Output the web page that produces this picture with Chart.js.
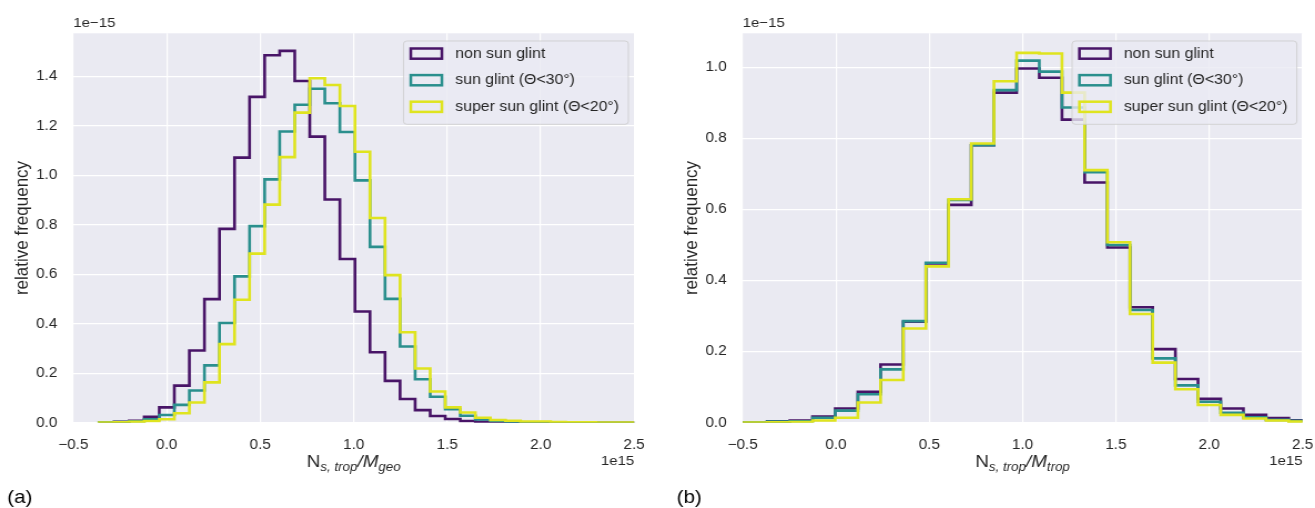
<!DOCTYPE html>
<html>
<head>
<meta charset="utf-8">
<script src="https://cdn.jsdelivr.net/npm/chart.js@4"></script>
<style>
  html, body { margin: 0; padding: 0; background: #fff; }
  body { width: 1315px; height: 508px; position: relative; overflow: hidden; }
  .panel { position: absolute; top: 0; height: 508px; transform-origin: 0 0; }
  .panel canvas { display: block; }
</style>
</head>
<body>
<div class="panel" style="left:0;width:590px;transform:scaleX(1.1102)"><canvas id="chartA" width="590" height="508"></canvas></div>
<div class="panel" style="left:655px;width:595px;transform:scaleX(1.1092)"><canvas id="chartB" width="595" height="508"></canvas></div>
<script>
// series names and colours
const seriesNames = ['non sun glint', 'sun glint (\u0398<30\u00b0)', 'super sun glint (\u0398<20\u00b0)'];
const seriesColors = ['#481467', '#2a8f8d', '#dfe41f'];

// (a) N_s,trop / M_geo  -- bin edges (x 1e15) and relative frequency (x 1e-15)
const edgesA = [-0.362, -0.2815, -0.201, -0.1205, -0.04, 0.0405, 0.121, 0.2015, 0.282, 0.3625,
  0.443, 0.5235, 0.604, 0.6845, 0.765, 0.8455, 0.926, 1.0065, 1.087, 1.1675, 1.248, 1.3285,
  1.409, 1.4895, 1.57, 1.6505, 1.731, 1.8115, 1.892, 1.9725, 2.053, 2.1335, 2.214, 2.2945,
  2.375, 2.4555, 2.536];
const nonGlintA = [0, 0.004, 0.008, 0.024, 0.062, 0.15, 0.292, 0.50, 0.784, 1.072, 1.318, 1.486,
  1.504, 1.382, 1.157, 0.903, 0.662, 0.45, 0.285, 0.169, 0.096, 0.051, 0.027, 0.015, 0.007,
  0.004, 0.002, 0.001, 0, 0, 0, 0, 0, 0, 0, 0];
const glintA = [0.002, 0.003, 0.006, 0.014, 0.031, 0.072, 0.13, 0.232, 0.403, 0.592, 0.795, 0.984,
  1.178, 1.286, 1.351, 1.292, 1.176, 0.98, 0.711, 0.501, 0.308, 0.176, 0.105, 0.055, 0.028,
  0.013, 0.007, 0.004, 0.002, 0.001, 0.001, 0, 0, 0, 0, 0];
const superGlintA = [0.001, 0.002, 0.004, 0.007, 0.014, 0.038, 0.082, 0.163, 0.318, 0.497, 0.684,
  0.882, 1.074, 1.254, 1.393, 1.366, 1.281, 1.096, 0.828, 0.597, 0.366, 0.219, 0.126, 0.062,
  0.041, 0.02, 0.011, 0.008, 0.005, 0.005, 0.003, 0.002, 0.002, 0.001, 0.001, 0.001];

// (b) N_s,trop / M_trop
const edgesB = [-0.6115, -0.49, -0.3685, -0.247, -0.1255, -0.004, 0.1175, 0.239, 0.3605, 0.482,
  0.6035, 0.725, 0.8465, 0.968, 1.0895, 1.211, 1.3325, 1.454, 1.5755, 1.697, 1.8185, 1.94,
  2.0615, 2.183, 2.3045, 2.426, 2.5475];
const nonGlintB = [0, 0.001, 0.004, 0.006, 0.017, 0.04, 0.087, 0.164, 0.284, 0.448, 0.613, 0.781,
  0.929, 0.997, 0.971, 0.853, 0.676, 0.493, 0.325, 0.207, 0.123, 0.067, 0.04, 0.022, 0.013, 0.007];
const glintB = [0, 0.001, 0.003, 0.004, 0.014, 0.034, 0.08, 0.15, 0.286, 0.45, 0.627, 0.781,
  0.936, 1.019, 0.988, 0.887, 0.705, 0.5, 0.317, 0.181, 0.105, 0.059, 0.028, 0.015, 0.008, 0.005];
const superGlintB = [0, 0.0005, 0.001, 0.002, 0.006, 0.014, 0.057, 0.12, 0.265, 0.44, 0.629, 0.786,
  0.961, 1.041, 1.039, 0.929, 0.711, 0.508, 0.306, 0.169, 0.094, 0.05, 0.022, 0.012, 0.006, 0.003];

// axes
const xTicks = [-0.5, 0.0, 0.5, 1.0, 1.5, 2.0, 2.5];
const yTicksA = [0, 0.2, 0.4, 0.6, 0.8, 1.0, 1.2, 1.4];
const yTicksB = [0, 0.2, 0.4, 0.6, 0.8, 1.0];
const yMaxA = 1.575;
const yMaxB = 1.096;

const FONT = '"Liberation Sans", Arial, Helvetica, sans-serif';
const INK = '#262626';

function fmt(v) {
  const s = v.toFixed(1);
  return v < 0 ? '\u2212' + s.slice(1) : s;
}

// outline of a step histogram, like matplotlib histtype='step'
function stepPoints(edges, heights) {
  const pts = [{x: edges[0], y: 0}];
  heights.forEach((h, i) => {
    pts.push({x: edges[i], y: h});
    pts.push({x: edges[i + 1], y: h});
  });
  pts.push({x: edges[edges.length - 1], y: 0});
  return pts;
}

function drawXTitle(ctx, cx, cy, sub2) {
  const parts = [
    {t: 'N', f: '17px ' + FONT, dy: 0},
    {t: 's, trop', f: 'italic 12px ' + FONT, dy: 4},
    {t: '/M', f: 'italic 17px ' + FONT, dy: 0},
    {t: sub2, f: 'italic 12px ' + FONT, dy: 4}
  ];
  let w = 0;
  parts.forEach(p => { ctx.font = p.f; p.w = ctx.measureText(p.t).width; w += p.w; });
  let x = cx - w / 2;
  ctx.textAlign = 'left';
  ctx.textBaseline = 'alphabetic';
  parts.forEach(p => {
    ctx.font = p.f;
    ctx.fillText(p.t, x, cy + 6 + p.dy);
    x += p.w;
  });
}

function decor(opts) {
  return {
    id: 'decor',
    beforeDraw(chart) {
      const a = chart.chartArea, ctx = chart.ctx;
      ctx.save();
      ctx.fillStyle = '#eaeaf2';
      ctx.fillRect(a.left, a.top, a.right - a.left, a.bottom - a.top);
      ctx.restore();
    },
    afterDatasetsDraw(chart) {
      const a = chart.chartArea, ctx = chart.ctx;
      ctx.save();
      ctx.font = '14.3px ' + FONT;
      const tw = Math.max(...seriesNames.map(n => ctx.measureText(n).width));
      const fw = 46.6 + tw + 8.4, fh = 83.3;
      const fx = a.right - 5.2 - fw, fy = a.top + 7.7;
      ctx.beginPath();
      ctx.roundRect(fx, fy, fw, fh, 3);
      ctx.fillStyle = 'rgba(234,234,242,0.8)';
      ctx.fill();
      ctx.strokeStyle = 'rgba(204,204,204,0.8)';
      ctx.lineWidth = 1;
      ctx.stroke();
      seriesNames.forEach((n, i) => {
        const cy = fy + 12.6 + i * 26.6;
        ctx.strokeStyle = seriesColors[i];
        ctx.lineWidth = 2.5;
        ctx.strokeRect(fx + 6.6, cy - 5.1, 28, 10.2);
        ctx.fillStyle = INK;
        ctx.textAlign = 'left';
        ctx.textBaseline = 'middle';
        ctx.fillText(n, fx + 46.6, cy);
      });
      ctx.restore();
    },
    afterDraw(chart) {
      const a = chart.chartArea, ctx = chart.ctx;
      ctx.save();
      ctx.fillStyle = INK;
      ctx.font = '13.5px ' + FONT;
      ctx.textBaseline = 'middle';
      ctx.textAlign = 'left';
      ctx.fillText('1e\u221215', a.left, 23.3);
      ctx.textAlign = 'right';
      ctx.fillText('1e15', a.right, 461.7);
      drawXTitle(ctx, (a.left + a.right) / 2, 461, opts.sub);
      ctx.save();
      ctx.translate(a.left - 46, (a.top + a.bottom) / 2);
      ctx.rotate(-Math.PI / 2);
      ctx.font = '17px ' + FONT;
      ctx.textAlign = 'center';
      ctx.textBaseline = 'middle';
      ctx.fillText('relative frequency', 0, 0);
      ctx.restore();
      ctx.font = '18.5px ' + FONT;
      ctx.textAlign = 'left';
      ctx.textBaseline = 'middle';
      ctx.fillStyle = '#000';
      ctx.fillText(opts.panel, opts.panelX, 498);
      ctx.restore();
    }
  };
}

function makeChart(id, edges, series, yTicks, yMax, o) {
  const order = [2, 1, 0];
  return new Chart(document.getElementById(id), {
    type: 'line',
    data: {
      datasets: series.map((s, i) => ({
        label: seriesNames[i],
        data: stepPoints(edges, s),
        borderColor: seriesColors[i],
        borderWidth: 2.6,
        pointRadius: 0,
        fill: false,
        tension: 0,
        borderJoinStyle: 'miter',
        order: order[i],
        clip: {left: 0, top: 0, right: 0, bottom: 0}
      }))
    },
    options: {
      responsive: false,
      animation: false,
      devicePixelRatio: 1,
      events: [],
      layout: { padding: { top: 33.3, right: o.padRight, left: 0, bottom: 0 } },
      scales: {
        x: {
          type: 'linear',
          min: -0.5,
          max: 2.5,
          afterBuildTicks: s => { s.ticks = xTicks.map(v => ({value: v})); },
          afterFit: s => { s.height = 85.3; s.paddingLeft = 0; s.paddingRight = 0; },
          grid: { color: '#ffffff', lineWidth: 1.2, drawTicks: false },
          border: { display: false },
          ticks: {
            maxRotation: 0,
            autoSkip: false,
            padding: 14,
            color: INK,
            font: { family: FONT, size: 13.8 },
            callback: v => fmt(v)
          }
        },
        y: {
          type: 'linear',
          min: 0,
          max: yMax,
          afterBuildTicks: s => { s.ticks = yTicks.map(v => ({value: v})); },
          afterFit: s => { s.width = o.yWidth; s.paddingTop = 0; s.paddingBottom = 0; },
          grid: { color: '#ffffff', lineWidth: 1.2, drawTicks: false },
          border: { display: false },
          ticks: {
            padding: 14.4,
            color: INK,
            font: { family: FONT, size: 13.8 },
            callback: v => v.toFixed(1)
          }
        }
      },
      plugins: {
        legend: { display: false },
        tooltip: { enabled: false }
      }
    },
    plugins: [decor(o)]
  });
}

makeChart('chartA', edgesA, [nonGlintA, glintA, superGlintA], yTicksA, yMaxA,
  { padRight: 18.8, yWidth: 66, sub: 'geo', panel: '(a)', panelX: 6.6 });
makeChart('chartB', edgesB, [nonGlintB, glintB, superGlintB], yTicksB, yMaxB,
  { padRight: 11.2, yWidth: 79, sub: 'trop', panel: '(b)', panelX: 19.5 });
</script>
</body>
</html>
